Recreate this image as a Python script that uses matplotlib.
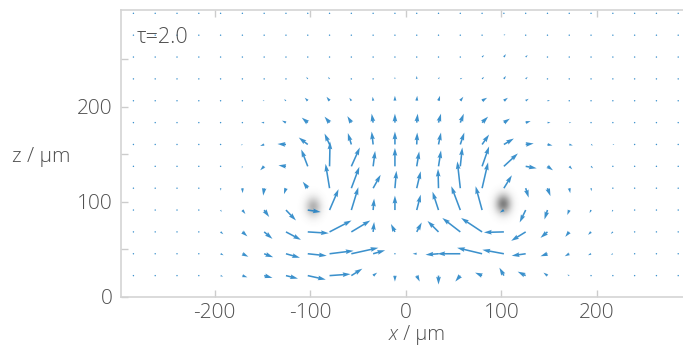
import numpy as np
import matplotlib
matplotlib.use("Agg")
import matplotlib.pyplot as plt

plt.rcParams['font.family'] = ['Open Sans', 'DejaVu Sans']
plt.rcParams['axes.unicode_minus'] = False

# grid of the velocity field (um)
x_grid = np.linspace(-285, 285, 26)
z_grid = np.linspace(22.5, 298.5, 13)

# horizontal velocity, rows from top (z=298) to bottom (z=22)
u_rows = [
    [0, 0, 0, 0, 0, 0, 0, 0, -0.5, 0, 0, 0, 0, 0, 0, 0, 0.5, 0.8, 0.5, 0, 0, 0, 0, 0, 0, 0],
    [0, 0, 0, 0, 0, 0, 0, -0.5, -0.8, -0.5, 0, 0, 0, 0, 0, 0, 1, 1.5, 1, 0, 0, 0, 0, 0, 0, 0],
    [0, 0, 0, 0, 0, 0, -0.3, -0.8, -1, -0.8, -0.3, 0, 0, 0, 0.3, 0.8, 2, 2, 2, 0.8, 0.3, 0, 0, 0, 0, 0],
    [0, 0, 0, 0, 0, -0.3, -0.8, -1, -1.5, -1.5, -0.5, 0, 0, 0, 1, 2, 2, 2, 2, 1, 0.5, 0.3, 0, 0, 0, 0],
    [0, 0, 0, 0, -0.3, -0.8, -1.5, -2, -3, -3, -2, -0.5, 0, 0.5, 1.5, 3, 5, 4, 3, 2.5, 1, 0.5, 0.3, 0, 0, 0],
    [0, 0, 0, -0.3, -0.8, -1.5, -3, -4, -6, -5, -4, -1.5, 0, 1, 2.5, 3.5, 6, 6, 5, 3, 2, 1, 0.5, 0.3, 0, 0],
    [0, 0, 0, 0, -0.5, -1.5, -4, -8.5, -9, -5, -3.5, -1.5, 0, 0.5, 2.5, 4, 7, 10, 8, 5, 3.5, 2, 1.5, 1, 0.3, 0],
    [0, 0, 0, 0, 0, -0.5, -4, -7.5, -6.5, 0.5, 8.5, 2, 0, 2.5, 2.5, 2, 7, 14, 11, 5.5, 3, 2, 1, 0.5, 0.3, 0],
    [0, 0, 0, 0.3, 0.3, 0.3, -1, -2, -5, -4, 8, 7.5, 1.5, 4, -0.5, -3, 6, 8, 3, 3, 1, 0.5, 0.3, 0, 0, 0],
    [0, 0, 0.3, 0.7, 1, 3, 5, 10, 13, 9, 7, 1, 0, 4, -6, -9, -6.5, -4, -6, -3, -2, -1.5, -1, -0.5, -0.3, 0],
    [0, 0, 0.5, 1, 2.7, 5, 8.3, 15, 21, 22, 19, 1, -4, 5, -11, -18, -21, -20, -14.5, -7, -4, -3, -2, -1, -0.5, -0.3],
    [0, 0, 0.3, 1, 3, 6, 9, 14, 19, 24, 27, 12, 0.5, -4, -13, -23, -25, -21.5, -14, -7, -4.5, -3, -2, -1, -0.5, -0.3],
    [0, 0, 0, 0.5, 2.5, 5, 8.3, 12, 18, 21, 11, 4, 0, 3, 0, -5, -7, -4.5, -8, -4, -2, -1, -0.5, 0, 0, 0],
]

# vertical velocity, same layout
w_rows = [
    [0, 0, 0, 0, 0, 0, 0, 0, 0.5, 0, 0, 0, 0, 0, 0, 0, 0.5, 0.5, 0.3, 0, 0, 0, 0, 0, 0, 0],
    [0, 0, 0, 0, 0, 0, 0, 0.5, 0.8, 0.5, 0, 0, 0, 0, 0, 0, 1, 1, 1, 0, 0, 0, 0, 0, 0, 0],
    [0, 0, 0, 0, 0, 0, 0.3, 0.8, 1, 1, 0.5, 0.5, 0.5, 0.5, 0.5, 0.8, 2, 3, 2, 0.3, 0, 0, 0, 0, 0, 0],
    [0, 0, 0, 0, 0, 0.3, 0.5, 1, 2, 2, 1, 1, 2, 3, 2, 1, 2, 3, 2, 0.5, 0, 0, 0, 0, 0, 0],
    [0, 0, 0, 0, 0, 0, 0.5, 1.5, 3, 4, 3, 4, 5, 5, 5, 4, 3, 3, 2, 0.3, 0, 0, 0, 0, 0, 0],
    [0, 0, 0, 0, 0, 0, 0, 2, 5, 6, 6.5, 9, 9, 9, 9, 9, 6, 4, 1.5, 0, 0, 0, 0, 0, 0, 0],
    [0, 0, 0, 0, -0.3, -0.8, -1.5, 0.5, 7, 11, 11.5, 13, 13, 12, 12, 12, 10, 6, 1, -1, -1, -1, -0.5, -0.3, 0, 0],
    [0, 0, 0, 0, -0.5, -2, -4, 1, 17, 25, 19, 15.5, 18.5, 15, 16, 19, 20, 13, -2, -4, -3, -2, -1, -0.5, 0, 0],
    [0, 0, 0, -0.8, -2.5, -5, -7.5, -6, 6.5, 24.5, 21.5, 13.5, 17.5, 17, 19.5, 27, 26, 13, -9.5, -8, -5, -3, -1.5, -0.8, -0.3, 0],
    [0, 0, -0.2, -0.5, -2, -4, -7, -10.5, -2, 21, 23, 11.5, 14.5, 15.5, 18.5, 24, 24, -2.5, -12.5, -9.5, -5, -3, -2, -1, -0.5, -0.3],
    [0, 0, -0.3, -0.7, -2.3, -4.5, -7, -8, -1.3, 11.5, 11.5, 10, 8, 9.5, 11, 14, 14, -0.5, -9, -6, -5, -3, -2, -1, -0.5, -0.3],
    [0, 0, 0, -0.3, -1.5, -3, -3.5, -4, -2, 3, 6, 3.5, 0, 0, -1, 0, 6, 4, -2, -2.5, -2.5, -1.5, -1, -0.5, 0, 0],
    [0, 0, 0, 0, -1, -1.7, -2.3, -3, -4, 1.5, 7, 3, -6, -6, -9, -6, 3, 8, 4, 3, 1, 0.3, 0, 0, 0, 0],
]

# particles (x, z, darkness)
blob_x = [-97, 102]
blob_z = [94, 97]
blob_strength = [0.45, 0.75]

U = np.array(u_rows)[::-1]
W = np.array(w_rows)[::-1]
X, Z = np.meshgrid(x_grid, z_grid)

fig = plt.figure(figsize=(6.83, 3.47), dpi=100)
ax = fig.add_axes([121 / 683, 50 / 347, 562 / 683, 287 / 347])

# gray gaussian blobs for the particles
gx = np.linspace(-140, 140, 400)
gz = np.linspace(50, 150, 150)
GX, GZ = np.meshgrid(gx, gz)
for bx, bz, s in zip(blob_x, blob_z, blob_strength):
    a = s * np.exp(-((GX - bx) ** 2 / (2 * 5.5 ** 2) + (GZ - bz) ** 2 / (2 * 7 ** 2)))
    img = np.zeros(GX.shape + (4,))
    img[..., :3] = 0.33
    img[..., 3] = a
    ax.imshow(img, extent=[gx[0], gx[-1], gz[0], gz[-1]], origin='lower',
              aspect='auto', zorder=1, interpolation='bilinear')

ax.quiver(X, Z, U, W, angles='xy', scale_units='xy', scale=0.956,
          color='#1a7ec4', alpha=0.85, width=0.0028, zorder=2)

ax.set_xlim(-298, 290)
ax.set_ylim(0, 302)
ax.set_xticks([-200, -100, 0, 100, 200])
ax.set_yticks([0, 100, 200])
ax.set_yticks([50, 150, 250], minor=True)
ax.tick_params(which='both', direction='in', length=5, width=1, color='#cccccc',
               top=True, right=False, labelcolor='#505050', labelsize=15, pad=6)
ax.tick_params(axis='x', pad=4)
for lab in ax.get_xticklabels() + ax.get_yticklabels():
    lab.set_fontweight('light')
for side in ['left', 'bottom', 'top']:
    ax.spines[side].set_color('#d4d4d4')
    ax.spines[side].set_linewidth(1.2)
ax.spines['right'].set_visible(False)

ax.text(0.028, 0.905, 'τ=2.0', transform=ax.transAxes, fontsize=15.5,
        color='#505050', va='center', ha='left', fontweight='light')

# x label: italic x followed by upright unit
fig.text(398 / 683, 7 / 347, 'x', ha='right', va='baseline', style='italic',
         fontsize=14.5, color='#505050', fontweight='light')
fig.text(398 / 683, 7 / 347, ' / µm', ha='left', va='baseline',
         fontsize=14.5, color='#505050', fontweight='light')
fig.text(12 / 683, 190 / 347, 'z / µm', ha='left', va='center',
         fontsize=15, color='#505050', fontweight='light')

fig.savefig('out.png', dpi=100)
